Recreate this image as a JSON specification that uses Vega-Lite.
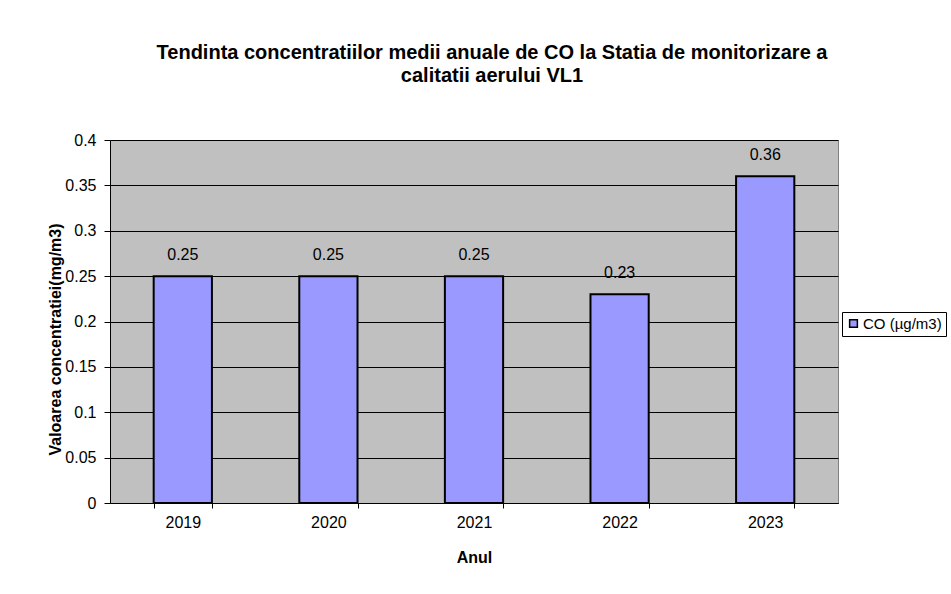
{
  "$schema": "https://vega.github.io/schema/vega-lite/v6.json",
  "width": 728,
  "height": 363,
  "autosize": {"type": "none"},
  "padding": {"left": 110, "top": 140, "right": 113, "bottom": 91},
  "background": "white",
  "title": {
    "text": ["Tendinta concentratiilor medii anuale de CO  la Statia de monitorizare a", "calitatii aerului VL1"],
    "font": "Liberation Sans",
    "fontSize": 20,
    "fontWeight": "bold",
    "color": "black",
    "anchor": "middle",
    "dx": 18,
    "offset": 46,
    "lineHeight": 23
  },
  "config": {
    "view": {"fill": "#c0c0c0", "stroke": "#808080", "strokeWidth": 1},
    "font": "Liberation Sans"
  },
  "data": {
    "values": [
      {"Anul": "2019", "value": 0.25, "series": "CO (µg/m3)"},
      {"Anul": "2020", "value": 0.25, "series": "CO (µg/m3)"},
      {"Anul": "2021", "value": 0.25, "series": "CO (µg/m3)"},
      {"Anul": "2022", "value": 0.23, "series": "CO (µg/m3)"},
      {"Anul": "2023", "value": 0.36, "series": "CO (µg/m3)"}
    ]
  },
  "encoding": {
    "x": {
      "field": "Anul",
      "type": "nominal",
      "scale": {"paddingInner": 0.6, "paddingOuter": 0.3},
      "axis": {
        "title": "Anul",
        "titleFont": "Liberation Sans",
        "titleFontSize": 16,
        "titleFontWeight": "bold",
        "titleColor": "black",
        "titlePadding": 19,
        "labelAngle": 0,
        "labelFont": "Liberation Sans",
        "labelFontSize": 16,
        "labelColor": "black",
        "labelPadding": 6,
        "tickBand": "extent",
        "tickColor": "black",
        "tickSize": 5,
        "domainColor": "black",
        "grid": false
      }
    },
    "y": {
      "field": "value",
      "type": "quantitative",
      "scale": {"domain": [0, 0.4], "nice": false},
      "axis": {
        "title": "Valoarea concentratiei(mg/m3)",
        "titleFont": "Liberation Sans",
        "titleFontSize": 16,
        "titleFontWeight": "bold",
        "titleColor": "black",
        "titleX": -55,
        "titleY": 199,
        "titleBaseline": "middle",
        "values": [0, 0.05, 0.1, 0.15, 0.2, 0.25, 0.3, 0.35, 0.4],
        "format": "~g",
        "labelFont": "Liberation Sans",
        "labelFontSize": 16,
        "labelColor": "black",
        "labelPadding": 8,
        "tickColor": "black",
        "tickSize": 6,
        "domainColor": "black",
        "grid": true,
        "gridColor": "black",
        "gridOpacity": 1,
        "gridWidth": 1
      }
    }
  },
  "layer": [
    {
      "mark": {"type": "bar", "stroke": "black", "strokeWidth": 2},
      "encoding": {
        "color": {
          "field": "series",
          "type": "nominal",
          "scale": {"range": ["#9999ff"]},
          "legend": {
            "title": null,
            "orient": "none",
            "legendX": 732,
            "legendY": 172,
            "fillColor": "white",
            "strokeColor": "black",
            "padding": 4,
            "symbolType": "square",
            "symbolSize": 60,
            "symbolStrokeColor": "black",
            "symbolStrokeWidth": 1.5,
            "labelFont": "Liberation Sans",
            "labelFontSize": 15,
            "labelColor": "black",
            "labelOffset": 2
          }
        }
      }
    },
    {
      "mark": {"type": "text", "baseline": "bottom", "dy": -13, "font": "Liberation Sans", "fontSize": 16, "color": "black"},
      "encoding": {
        "text": {"field": "value", "type": "quantitative", "format": "~g"}
      }
    }
  ]
}
